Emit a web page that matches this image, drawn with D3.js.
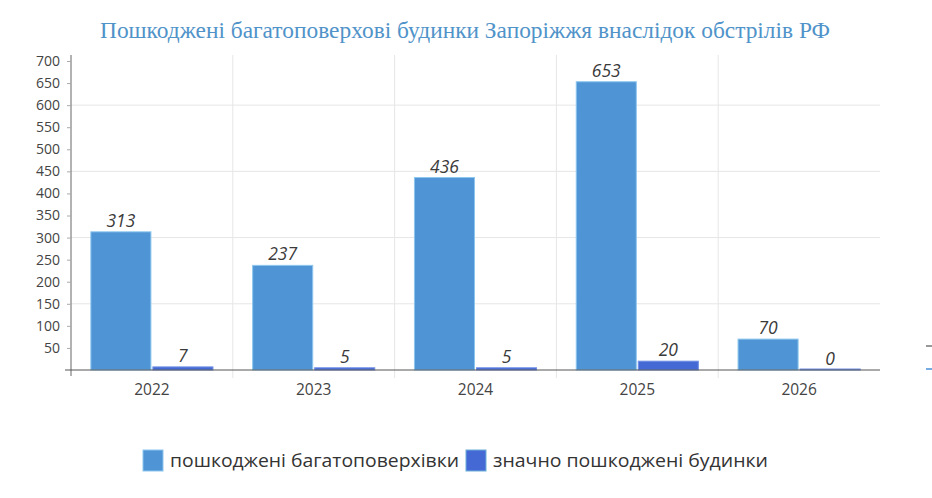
<!DOCTYPE html>
<html><head><meta charset="utf-8">
<script src="https://cdn.jsdelivr.net/npm/d3@7"></script>
<style>body{margin:0;background:#fff;} svg{display:block;}</style>
</head><body>
<svg id="c" width="932" height="498"></svg>
<script>
const categories = ["2022","2023","2024","2025","2026"];
const seriesNames = ["пошкоджені багатоповерхівки","значно пошкоджені будинки"];
const damaged = [313,237,436,653,70];
const severe = [7,5,5,20,0];
const yTicks = [50,100,150,200,250,300,350,400,450,500,550,600,650,700];
const gridTicks = [150,300,450,600];
const title = "Пошкоджені багатоповерхові будинки Запоріжжя внаслідок обстрілів РФ";
const colors = ["#4f94d4","#4569d4"];

const svg = d3.select("#c");
const m = {l:71, r:880, t:61, b:370};
const x = d3.scaleBand().domain(categories).range([m.l, m.r]);
const xs = d3.scaleBand().domain([0,1]).range([0, x.bandwidth()]).paddingOuter(0.32).paddingInner(0.032);
const y = d3.scaleLinear().domain([0,700]).range([m.b, m.t]);

svg.append("text").attr("x",465).attr("y",38).attr("text-anchor","middle")
  .attr("font-family","Liberation Serif, serif").attr("font-size",23).attr("fill","#4f93c9")
  .attr("textLength",730).attr("lengthAdjust","spacingAndGlyphs").text(title);

// grid
const g = svg.append("g");
g.selectAll("line.h").data(gridTicks).join("line")
  .attr("x1",m.l).attr("x2",m.r).attr("y1",d=>y(d)).attr("y2",d=>y(d))
  .attr("stroke","#e6e6e6").attr("stroke-width",1);
g.selectAll("line.v").data(categories.slice(1)).join("line")
  .attr("x1",d=>x(d)).attr("x2",d=>x(d))
  .attr("y1",m.t-6).attr("y2",m.b+8)
  .attr("stroke","#e6e6e6").attr("stroke-width",1);

// bars
const data = categories.map((c,i)=>({c, v:[damaged[i], severe[i]]}));
const bg = svg.append("g").selectAll("g").data(data).join("g").attr("transform",d=>`translate(${x(d.c)},0)`);
bg.selectAll("rect").data(d=>d.v.map((v,k)=>({v,k}))).join("rect")
  .attr("x",d=>xs(d.k)).attr("width",xs.bandwidth())
  .attr("y",d=>y(d.v)-(d.v===0?1:0)).attr("height",d=>Math.max(1,m.b-y(d.v)))
  .attr("fill",d=>colors[d.k]).attr("stroke",d=>d.k===0?"#8cc6ee":"#6f8fe6").attr("stroke-width",1);
bg.selectAll("text").data(d=>d.v.map((v,k)=>({v,k}))).join("text")
  .attr("x",d=>xs(d.k)+xs.bandwidth()/2).attr("y",d=>y(d.v)-5)
  .attr("text-anchor","middle").attr("font-family","Open Sans, sans-serif").attr("font-style","italic")
  .attr("font-size",17.5).attr("fill","#3a3a3a").text(d=>d.v);

// y axis
const ya = svg.append("g").attr("transform",`translate(${m.l},0)`)
  .call(d3.axisLeft(y).tickValues(yTicks).tickSize(4).tickPadding(7));
ya.select(".domain").attr("d",`M0,${m.t-6}V${m.b+6}`).attr("stroke","#666");
ya.selectAll(".tick line").attr("stroke","#aaa");
ya.selectAll("text").attr("font-family","Open Sans, sans-serif").attr("font-size",14).attr("fill","#444");

// x axis
const xa = svg.append("g").attr("transform",`translate(0,${m.b})`)
  .call(d3.axisBottom(x).tickSize(0).tickPadding(14));
xa.select(".domain").attr("d",`M${m.l-6},0H${m.r}`).attr("stroke","#555");
xa.selectAll("text").attr("font-family","Open Sans, sans-serif").attr("font-size",15.5).attr("fill","#444");

// legend
const lg = svg.append("g");
const lx = [143, 466];
const lw = [289, 275];
seriesNames.forEach((n,i)=>{
  lg.append("rect").attr("x",lx[i]).attr("y",450).attr("width",20).attr("height",21)
    .attr("fill",colors[i]).attr("stroke",i===0?"#8cc6ee":"#6fb0d8");
  lg.append("text").attr("x",lx[i]+27).attr("y",467).attr("font-family","Open Sans, sans-serif")
    .attr("font-size",19).attr("fill","#333")
    .attr("textLength",lw[i]).attr("lengthAdjust","spacingAndGlyphs").text(n);
});

// small edge marks
svg.append("line").attr("x1",926).attr("x2",932).attr("y1",346).attr("y2",346).attr("stroke","#333");
svg.append("line").attr("x1",926).attr("x2",932).attr("y1",369).attr("y2",369).attr("stroke","#4a90d9").attr("stroke-width",1.5);
</script>
</body></html>
